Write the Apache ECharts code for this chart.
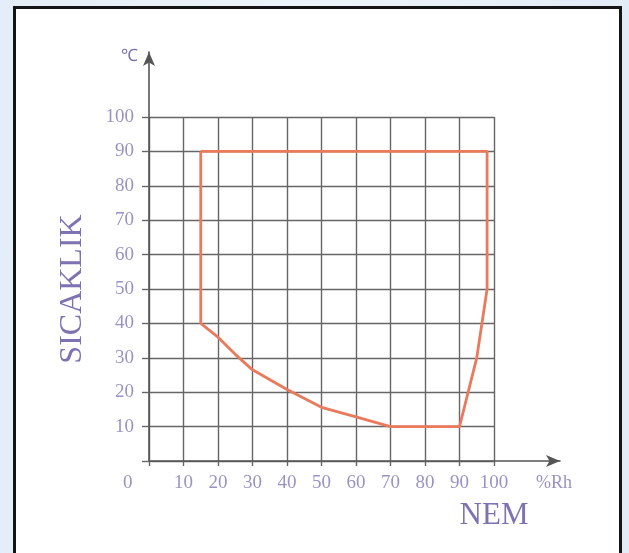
<!DOCTYPE html>
<html>
<head>
<meta charset="utf-8">
<script src="https://cdn.jsdelivr.net/npm/echarts@6/dist/echarts.min.js"></script>
<style>
  html, body { margin:0; padding:0; width:629px; height:553px; overflow:hidden;
    background: linear-gradient(90deg, #e4eef8 0%, #eef4fa 50%, #e2ecf7 100%); }
  #frame { position:absolute; left:13px; top:6px; width:603px; height:560px;
    border:3px solid #151515; background:#ffffff; }
  #chart { position:absolute; left:0; top:0; width:629px; height:553px; }
</style>
</head>
<body>
<div id="frame"></div>
<div id="chart"></div>
<script>
// Humidity (%Rh) and temperature (°C) points of the operating envelope
const humidity    = [15, 98, 98, 95, 90, 70, 60,   50,   40,   30,   25, 20, 15, 15];
const temperature = [90, 90, 50, 30, 10, 10, 12.8, 15.6, 20.8, 26.5, 31, 36, 40, 90];
const xTicks = [0, 10, 20, 30, 40, 50, 60, 70, 80, 90, 100];
const yTicks = [0, 10, 20, 30, 40, 50, 60, 70, 80, 90, 100];
const xUnit = '%Rh', yUnit = '℃', xTitle = 'NEM', yTitle = 'SICAKLIK';

const serif = "'Liberation Serif', 'Times New Roman', serif";
const labelColor = '#9b92c4';
const titleColor = '#7f72b2';
const gridColor = '#666666';

const chart = echarts.init(document.getElementById('chart'));
const L = 149, T = 117, R = 629 - 494, B = 553 - 461;

chart.setOption({
  animation: false,
  grid: [
    { left: L, top: T, right: R, bottom: B },
    { left: L, top: 52, right: 629 - 560, bottom: B }
  ],
  xAxis: [
    {
      type: 'value', gridIndex: 0, min: xTicks[0], max: xTicks[xTicks.length - 1], interval: 10,
      axisLine: { show: false },
      axisTick: { show: true, length: 5, lineStyle: { color: gridColor, width: 1.4 } },
      splitLine: { show: true, lineStyle: { color: gridColor, width: 1.4 } },
      axisLabel: {
        margin: 13, color: labelColor, fontFamily: serif, fontSize: 19,
        formatter: v => (v === 0 ? '' : String(v))
      },
      name: xTitle, nameLocation: 'end', nameGap: 0,
      nameTextStyle: { color: titleColor, fontFamily: serif, fontSize: 31,
        align: 'center', verticalAlign: 'top', padding: [39, 0, 0, 0] }
    },
    {
      type: 'value', gridIndex: 1, min: 0, max: 1,
      axisLine: { show: true, symbol: ['none', 'arrow'], symbolSize: [9, 14],
        lineStyle: { color: '#555555', width: 1.6 } },
      axisTick: { show: false }, axisLabel: { show: false }, splitLine: { show: false }
    }
  ],
  yAxis: [
    {
      type: 'value', gridIndex: 0, min: yTicks[0], max: yTicks[yTicks.length - 1], interval: 10,
      axisLine: { show: false },
      axisTick: { show: true, length: 7, lineStyle: { color: gridColor, width: 1.4 } },
      splitLine: { show: true, lineStyle: { color: gridColor, width: 1.4 } },
      axisLabel: {
        margin: 15, color: labelColor, fontFamily: serif, fontSize: 19,
        formatter: v => (v === 0 ? '' : String(v))
      },
      name: yTitle, nameLocation: 'middle', nameGap: 60, nameRotate: 90,
      nameTextStyle: { color: titleColor, fontFamily: serif, fontSize: 32 }
    },
    {
      type: 'value', gridIndex: 1, min: 0, max: 1,
      axisLine: { show: true, symbol: ['none', 'arrow'], symbolSize: [9, 14],
        lineStyle: { color: '#555555', width: 1.6 } },
      axisTick: { show: false }, axisLabel: { show: false }, splitLine: { show: false }
    }
  ],
  graphic: [
    { type: 'text', left: 123, top: 474, style: { text: '0', fill: labelColor, font: '19px ' + serif } },
    { type: 'text', left: 536, top: 474, style: { text: xUnit, fill: labelColor, font: '18px ' + serif } },
    { type: 'text', left: 121, top: 48, style: { text: yUnit, fill: titleColor, font: '17px ' + serif } }
  ],
  series: [
    {
      type: 'line', xAxisIndex: 0, yAxisIndex: 0,
      data: humidity.map((h, i) => [h, temperature[i]]),
      showSymbol: false, symbol: 'none',
      lineStyle: { color: '#e97a5c', width: 2.8 },
      z: 5
    }
  ]
});
</script>
</body>
</html>
